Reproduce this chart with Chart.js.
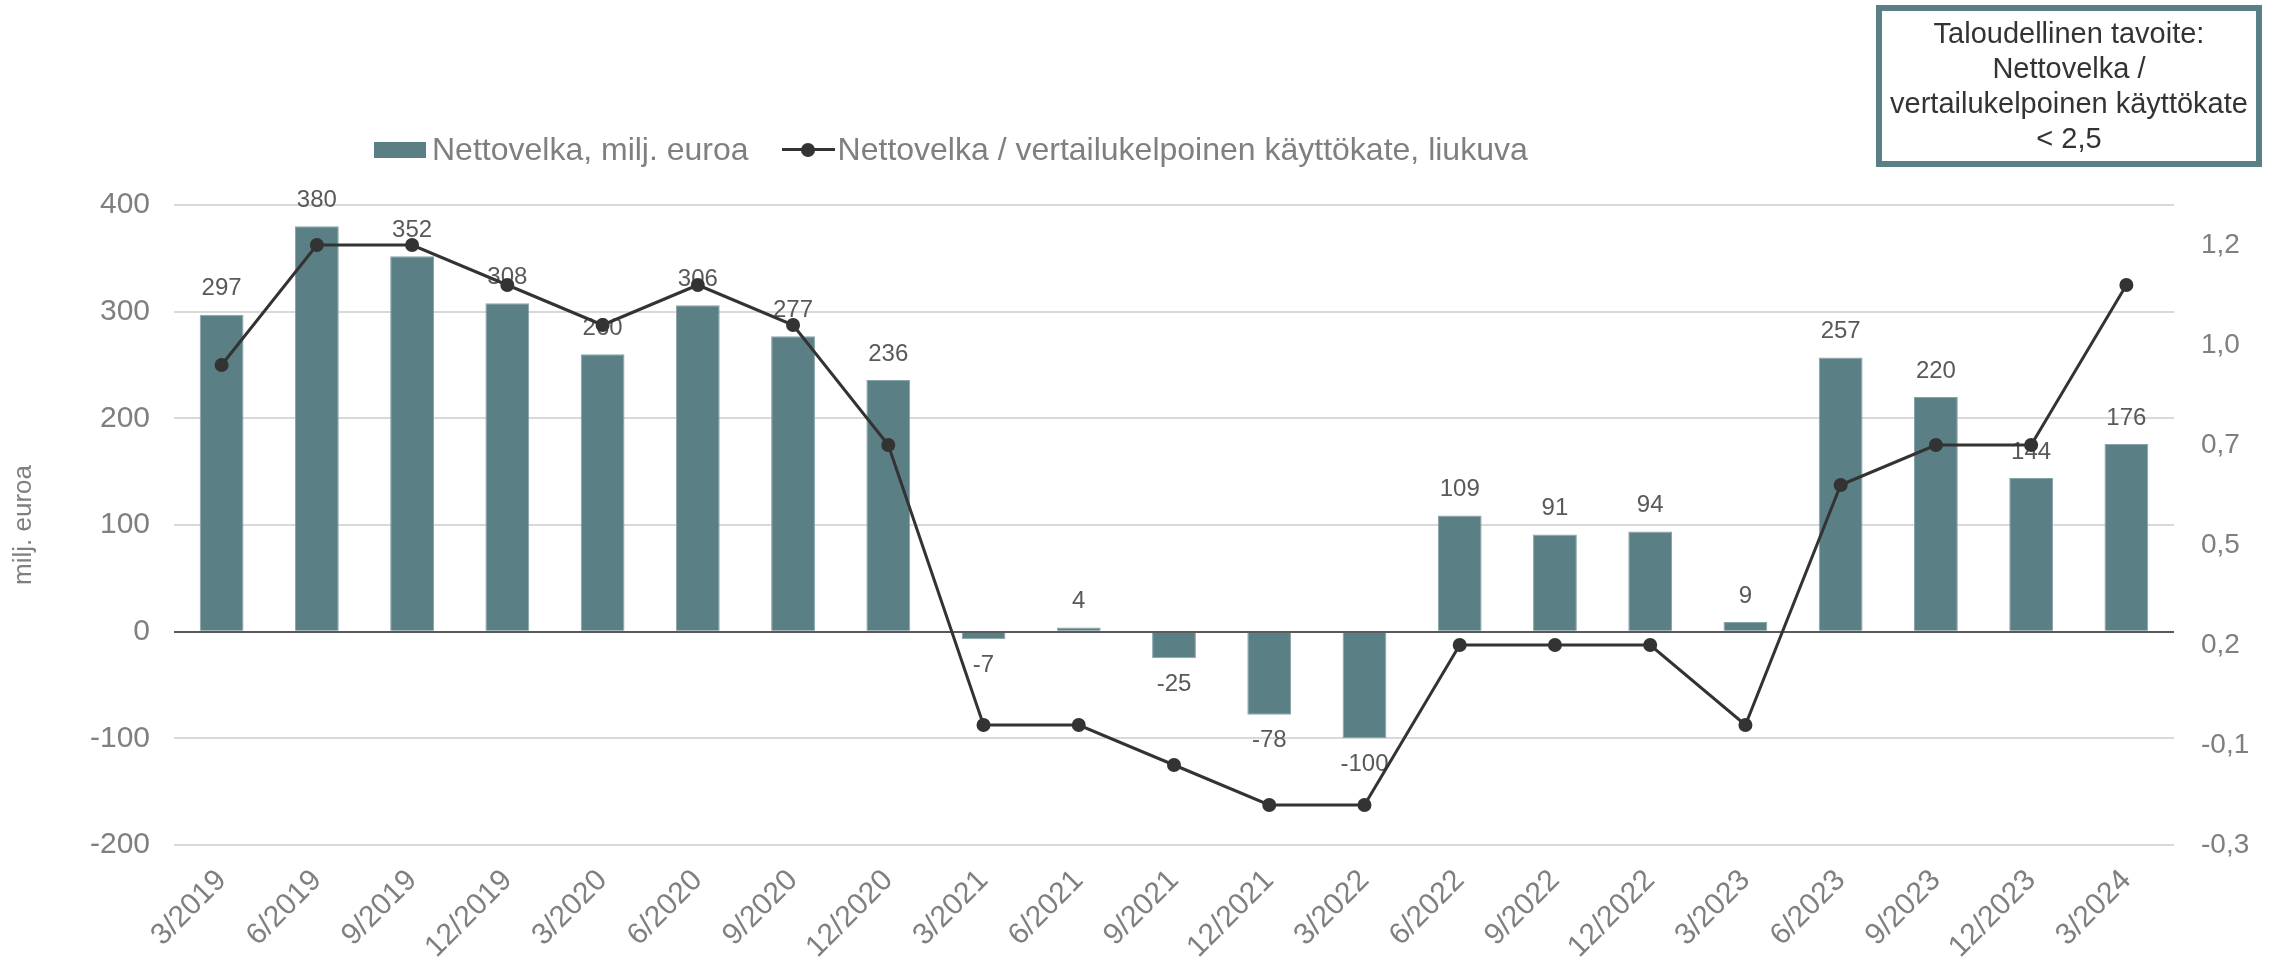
<!DOCTYPE html>
<html lang="fi">
<head>
<meta charset="UTF-8">
<title>Nettovelka</title>
<script src="https://cdn.jsdelivr.net/npm/chart.js"></script>
<style>
  body { margin: 0; background: #fff; font-family: "Liberation Sans", Arial, sans-serif; }
  .wrap { position: relative; width: 2277px; height: 961px; }
  #legend { position: absolute; left: 374px; top: 131px; display: flex; align-items: center; font-size: 32px; color: #7f7f7f; white-space: nowrap; }
  .item { display: flex; align-items: center; margin-right: 33px; }
  .swatch { width: 52px; height: 16px; margin-right: 6px; }
  .lineswatch { position: relative; width: 53px; height: 16px; margin-right: 3px; }
  .lineswatch .seg { position: absolute; left: 0; right: 0; top: 6.5px; height: 3px; }
  .lineswatch .dot { position: absolute; left: 19px; top: 1px; width: 14px; height: 14px; border-radius: 50%; }
  .target { position: absolute; left: 1876px; top: 5px; width: 386px; height: 162px; box-sizing: border-box;
            border: 6px solid #5a7f84; text-align: center; font-size: 29px; line-height: 35px; color: #333; padding-top: 5px; }
</style>
</head>
<body>
<div class="wrap">
  <canvas id="chart" width="2277" height="961"></canvas>
  <div id="legend"></div>
  <div class="target">Taloudellinen tavoite:<br>Nettovelka /<br>vertailukelpoinen käyttökate<br>&lt; 2,5</div>
</div>
<script>
  const quarters = ['3/2019', '6/2019', '9/2019', '12/2019', '3/2020', '6/2020', '9/2020', '12/2020',
                    '3/2021', '6/2021', '9/2021', '12/2021', '3/2022', '6/2022', '9/2022', '12/2022',
                    '3/2023', '6/2023', '9/2023', '12/2023', '3/2024'];
  const netDebt = [297, 380, 352, 308, 260, 306, 277, 236, -7, 4, -25, -78, -100, 109, 91, 94, 9, 257, 220, 144, 176];
  const ratio = [0.9, 1.2, 1.2, 1.1, 1.0, 1.1, 1.0, 0.7, 0.0, 0.0, -0.1, -0.2, -0.2, 0.2, 0.2, 0.2, 0.0, 0.6, 0.7, 0.7, 1.1];
  const rightTickValues = [-0.3, -0.05, 0.2, 0.45, 0.7, 0.95, 1.2];
  const rightTickLabels = ['-0,3', '-0,1', '0,2', '0,5', '0,7', '1,0', '1,2'];

  const FONT = '"Liberation Sans", Arial, sans-serif';
  const BAR = '#5a7f84';
  const LINE = '#333333';
  const GREY = '#7f7f7f';

  Chart.defaults.font.family = FONT;

  // value labels above/below the bars, drawn before the line so it sits on top
  const barLabels = {
    id: 'barLabels',
    afterDatasetDraw(chart, args) {
      if (args.index !== 0) return;
      const ctx = chart.ctx;
      ctx.save();
      ctx.font = '24px ' + FONT;
      ctx.fillStyle = '#595959';
      ctx.textAlign = 'center';
      ctx.textBaseline = 'middle';
      args.meta.data.forEach((bar, i) => {
        const v = netDebt[i];
        ctx.fillText(String(v), bar.x, v >= 0 ? bar.y - 26 : bar.y + 26);
      });
      ctx.restore();
    }
  };

  const chart = new Chart(document.getElementById('chart'), {
    type: 'bar',
    data: {
      labels: quarters,
      datasets: [
        {
          label: 'Nettovelka, milj. euroa',
          data: netDebt,
          backgroundColor: BAR,
          borderColor: '#86a3a7',
          borderWidth: 1,
          barPercentage: 0.46,
          categoryPercentage: 1,
          yAxisID: 'y',
          order: 1
        },
        {
          type: 'line',
          label: 'Nettovelka / vertailukelpoinen käyttökate, liukuva',
          data: ratio,
          borderColor: LINE,
          backgroundColor: LINE,
          borderWidth: 3,
          pointRadius: 7,
          pointBorderWidth: 0,
          pointBackgroundColor: LINE,
          tension: 0,
          yAxisID: 'y2',
          order: 0
        }
      ]
    },
    options: {
      responsive: false,
      animation: false,
      layout: { padding: { top: 205, left: 0, right: 0, bottom: 0 } },
      plugins: {
        legend: { display: false },
        tooltip: { enabled: false }
      },
      scales: {
        x: {
          grid: { display: false },
          border: { display: false },
          ticks: {
            font: { size: 30 },
            color: GREY,
            minRotation: 45,
            maxRotation: 45,
            autoSkip: false,
            padding: 10
          },
          afterFit(scale) { scale.height = 116; }
        },
        y: {
          position: 'left',
          min: -200,
          max: 400,
          ticks: { stepSize: 100, font: { size: 30 }, color: GREY, padding: 24 },
          grid: {
            drawTicks: false,
            lineWidth: 2,
            color: (c) => c.tick && c.tick.value === 0 ? '#595959' : '#d9d9d9'
          },
          border: { display: false },
          title: { display: true, text: 'milj. euroa', font: { size: 26 }, color: GREY, padding: { top: 8, bottom: 0 } },
          afterFit(scale) { scale.width = 174; }
        },
        y2: {
          position: 'right',
          min: -0.3,
          max: 1.3,
          afterBuildTicks(scale) { scale.ticks = rightTickValues.map(v => ({ value: v })); },
          ticks: {
            font: { size: 28 },
            color: GREY,
            padding: 19,
            callback: (v, i) => rightTickLabels[i]
          },
          grid: { display: false },
          border: { display: false },
          afterFit(scale) { scale.width = 103; }
        }
      }
    },
    plugins: [barLabels]
  });

  // legend built from the datasets
  const legend = document.getElementById('legend');
  chart.data.datasets.forEach((ds, i) => {
    const item = document.createElement('div');
    item.className = 'item';
    if (ds.type === 'line') {
      item.innerHTML = '<span class="lineswatch"><span class="seg" style="background:' + ds.borderColor +
        '"></span><span class="dot" style="background:' + ds.borderColor + '"></span></span>';
    } else {
      item.innerHTML = '<span class="swatch" style="background:' + ds.backgroundColor + '"></span>';
    }
    item.appendChild(document.createTextNode(ds.label));
    legend.appendChild(item);
  });
</script>
</body>
</html>
